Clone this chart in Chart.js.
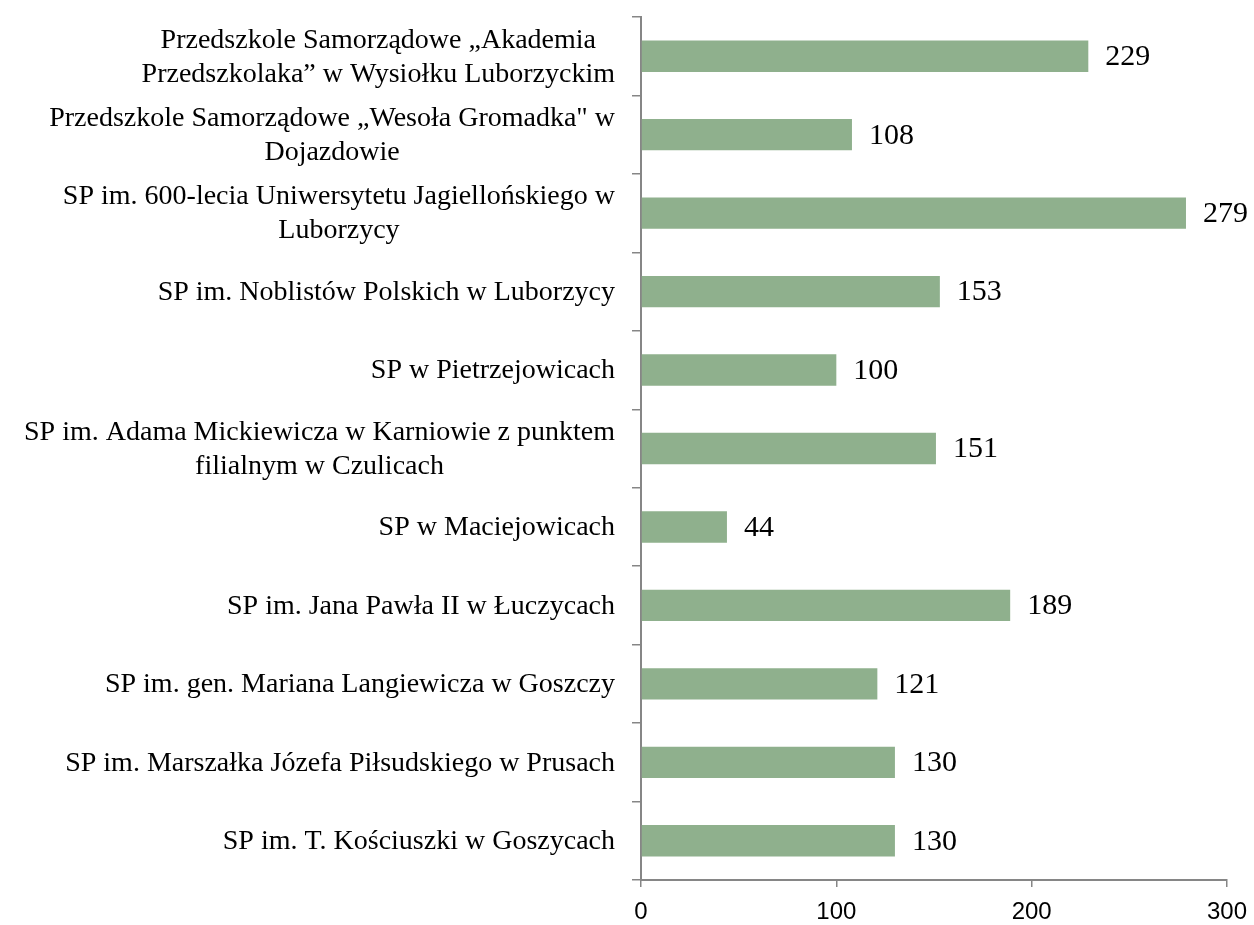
<!DOCTYPE html>
<html>
<head>
<meta charset="utf-8">
<script src="https://cdn.jsdelivr.net/npm/chart.js@4"></script>
<style>
  html, body { margin: 0; padding: 0; background: #fff; }
  #wrap { width: 1254px; height: 925px; }
</style>
</head>
<body>
<div id="wrap"><canvas id="barChart" width="1254" height="925"></canvas></div>
<script>
// Schools and their values (top to bottom)
var schoolLabels = [
    ["Przedszkole Samorządowe „Akademia", "Przedszkolaka” w Wysiołku Luborzyckim"],
    ["Przedszkole Samorządowe „Wesoła Gromadka\" w", "Dojazdowie"],
    ["SP im. 600-lecia Uniwersytetu Jagiellońskiego w", "Luborzycy"],
    ["SP im. Noblistów Polskich w Luborzycy"],
    ["SP w Pietrzejowicach"],
    ["SP im. Adama Mickiewicza w Karniowie z punktem", "filialnym w Czulicach"],
    ["SP w Maciejowicach"],
    ["SP im. Jana Pawła II w Łuczycach"],
    ["SP im. gen. Mariana Langiewicza w Goszczy"],
    ["SP im. Marszałka Józefa Piłsudskiego w Prusach"],
    ["SP im. T. Kościuszki w Goszycach"]
];
var schoolValues = [229, 108, 279, 153, 100, 151, 44, 189, 121, 130, 130];
var xTicks = [0, 100, 200, 300];

var barColor = "#8fb08d";
var axisColor = "#868686";
var serif = "'Liberation Serif', 'Times New Roman', serif";

// category labels: block right aligned, lines centred inside the block
var labelPlugin = {
    id: "schoolLabels",
    afterDraw: function (chart) {
        var ctx = chart.ctx;
        var yScale = chart.scales.y;
        var rightEdge = chart.chartArea.left - 26;
        var lineH = 34;
        ctx.save();
        ctx.font = "28px " + serif;
        ctx.fillStyle = "#000";
        ctx.textAlign = "center";
        ctx.textBaseline = "middle";
        schoolLabels.forEach(function (lines, i) {
            var w = 0;
            lines.forEach(function (l) { w = Math.max(w, ctx.measureText(l).width); });
            var cx = rightEdge - w / 2;
            var cy = yScale.getPixelForValue(i);
            var y0 = cy - (lines.length - 1) * lineH / 2;
            lines.forEach(function (l, k) { ctx.fillText(l, cx, y0 + k * lineH + 1); });
        });
        ctx.restore();
    }
};

// value labels at the end of each bar
var valuePlugin = {
    id: "valueLabels",
    afterDatasetsDraw: function (chart) {
        var ctx = chart.ctx;
        var meta = chart.getDatasetMeta(0);
        ctx.save();
        ctx.font = "30px " + serif;
        ctx.fillStyle = "#000";
        ctx.textAlign = "left";
        ctx.textBaseline = "middle";
        meta.data.forEach(function (bar, i) {
            ctx.fillText(String(schoolValues[i]), bar.x + 17, bar.y + 1);
        });
        ctx.restore();
    }
};

new Chart("barChart", {
    type: "bar",
    data: {
        labels: schoolLabels.map(function (l) { return l.join(" "); }),
        datasets: [{
            data: schoolValues,
            backgroundColor: barColor,
            barPercentage: 0.4,
            categoryPercentage: 1.0
        }]
    },
    options: {
        indexAxis: "y",
        responsive: false,
        animation: false,
        layout: { padding: { left: 0, right: 27, top: 17, bottom: 0 } },
        plugins: {
            legend: { display: false },
            title: { display: false },
            tooltip: { enabled: false }
        },
        scales: {
            x: {
                min: 0,
                max: 300,
                afterBuildTicks: function (scale) {
                    scale.ticks = xTicks.map(function (v) { return { value: v }; });
                },
                afterFit: function (scale) {
                    scale.height = 45;
                    scale.paddingLeft = 0;
                    scale.paddingRight = 0;
                },
                grid: {
                    drawOnChartArea: false,
                    drawTicks: true,
                    tickLength: 7,
                    color: axisColor,
                    lineWidth: 1.5
                },
                border: { display: true, color: axisColor, width: 2 },
                ticks: {
                    color: "#000",
                    padding: 11,
                    font: { family: "'Liberation Sans Narrow', 'Liberation Sans', sans-serif", size: 24 }
                }
            },
            y: {
                afterFit: function (scale) { scale.width = 641; },
                grid: {
                    offset: true,
                    drawOnChartArea: false,
                    drawTicks: true,
                    tickLength: 9,
                    color: axisColor,
                    lineWidth: 1.5
                },
                border: { display: true, color: axisColor, width: 2 },
                ticks: { display: false }
            }
        }
    },
    plugins: [labelPlugin, valuePlugin]
});
</script>
</body>
</html>
